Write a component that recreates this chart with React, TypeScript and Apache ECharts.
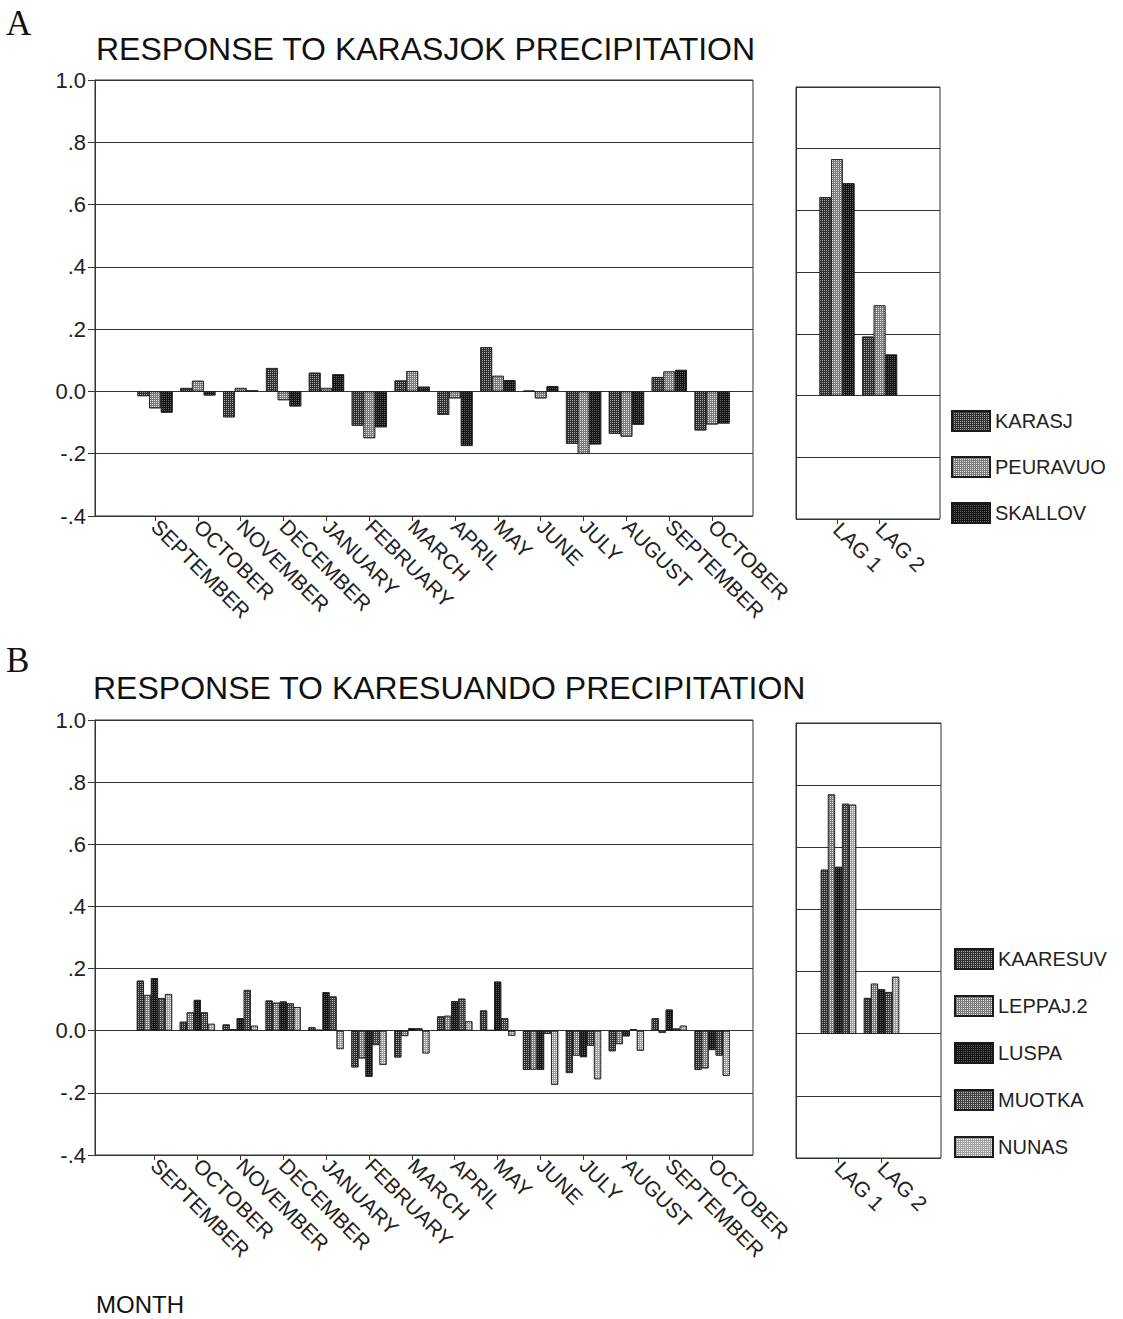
import React, { useEffect, useRef } from "react";
import * as echarts from "echarts";

// ---------- DATA ----------
const months = [
  "SEPTEMBER", "OCTOBER", "NOVEMBER", "DECEMBER", "JANUARY", "FEBRUARY", "MARCH",
  "APRIL", "MAY", "JUNE", "JULY", "AUGUST", "SEPTEMBER", "OCTOBER",
];
const lags = ["LAG 1", "LAG 2"];
const yTickLabels = ["-.4", "-.2", "0.0", ".2", ".4", ".6", ".8", "1.0"];

const titleA = "RESPONSE TO KARASJOK PRECIPITATION";
const titleB = "RESPONSE TO KARESUANDO PRECIPITATION";
const xTitle = "MONTH";

const seriesNamesA = ["KARASJ", "PEURAVUO", "SKALLOV"];
const karasjMonths = [-0.015, 0.011, -0.083, 0.075, 0.06, -0.11, 0.035, -0.075, 0.142, 0.002, -0.168, -0.136, 0.046, -0.125];
const peuravuoMonths = [-0.054, 0.034, 0.011, -0.028, 0.011, -0.15, 0.065, -0.022, 0.05, -0.022, -0.2, -0.145, 0.064, -0.106];
const skallovMonths = [-0.068, -0.013, 0.003, -0.048, 0.055, -0.115, 0.015, -0.175, 0.036, 0.017, -0.17, -0.107, 0.069, -0.103];
const karasjLags = [0.643, 0.191];
const peuravuoLags = [0.766, 0.292];
const skallovLags = [0.688, 0.133];

const seriesNamesB = ["KAARESUV", "LEPPAJ.2", "LUSPA", "MUOTKA", "NUNAS"];
const kaaresuvMonths = [0.161, 0.029, 0.02, 0.097, 0.011, -0.118, -0.086, 0.046, 0.065, -0.126, -0.136, -0.066, 0.04, -0.126];
const leppajMonths = [0.115, 0.059, 0.005, 0.09, 0.003, -0.089, -0.017, 0.048, 0.002, -0.125, -0.08, -0.043, -0.007, -0.121];
const luspaMonths = [0.169, 0.099, 0.04, 0.094, 0.124, -0.148, 0.008, 0.095, 0.158, -0.126, -0.085, -0.018, 0.068, -0.062];
const muotkaMonths = [0.105, 0.059, 0.131, 0.088, 0.11, -0.046, 0.008, 0.103, 0.04, -0.01, -0.048, 0.005, 0.007, -0.08];
const nunasMonths = [0.118, 0.022, 0.016, 0.076, -0.059, -0.11, -0.073, 0.03, -0.016, -0.174, -0.156, -0.064, 0.016, -0.145];
const kaaresuvLags = [0.528, 0.115];
const leppajLags = [0.77, 0.161];
const luspaLags = [0.537, 0.143];
const muotkaLags = [0.74, 0.134];
const nunasLags = [0.737, 0.183];

// ---------- STYLE ----------
const FONT = "'Liberation Sans', Arial, Helvetica, sans-serif";
const SERIF = "'Liberation Serif', 'Times New Roman', serif";
const INK = "#222";
const LINE = "#333";

const mkStyle = (base: string, dot: string) => ({
  color: base,
  borderColor: "#1a1a1a",
  borderWidth: 0.7,
  decal: {
    symbol: "rect",
    symbolSize: 1,
    dashArrayX: [1, 1],
    dashArrayY: [1, 1],
    color: dot,
    rotation: 0,
  },
});
const styleDark = mkStyle("#303030", "#a8a8a8");
const styleLight = mkStyle("#7a7a7a", "#e4e4e4");
const styleBlack = mkStyle("#141414", "#606060");
const styleMid = mkStyle("#404040", "#bcbcbc");
const stylePale = mkStyle("#a0a0a0", "#f2f2f2");

function yLabel(v: number) {
  const i = Math.round((v + 0.4) / 0.2);
  return yTickLabels[i] ?? "";
}

function frameGrid(left: number, top: number, width: number, height: number) {
  return { left, top, width, height, show: true, borderColor: LINE, borderWidth: 1, backgroundColor: "transparent" };
}
function plainGrid(left: number, top: number, width: number, height: number) {
  return { left, top, width, height, show: false };
}

function frameY(gridIndex: number, labels: boolean) {
  return {
    gridIndex,
    type: "value",
    min: -0.4,
    max: 1.0,
    interval: 0.2,
    axisLine: { show: true, lineStyle: { color: LINE, width: 1 } },
    axisTick: { show: labels, length: 7, inside: false, lineStyle: { color: LINE } },
    axisLabel: { show: labels, formatter: yLabel, fontSize: 22, margin: 9, color: INK, fontFamily: FONT },
    splitLine: { show: true, lineStyle: { color: LINE, width: 1 } },
  };
}
function hiddenY(gridIndex: number) {
  return { gridIndex, type: "value", min: -0.4, max: 1.0, show: false, splitLine: { show: false } };
}
function hiddenX(gridIndex: number) {
  return { gridIndex, type: "value", show: false, splitLine: { show: false } };
}
function catX(gridIndex: number, data: string[]) {
  return {
    gridIndex,
    type: "category",
    data,
    axisLine: { show: false, onZero: false },
    axisTick: { show: true, alignWithLabel: true, length: 5, lineStyle: { color: LINE } },
    axisLabel: { interval: 0, rotate: -45, fontSize: 21, margin: 7, color: INK, fontFamily: FONT },
    splitLine: { show: false },
  };
}

function bar(name: string, data: number[], axisIndex: number, itemStyle: any) {
  return {
    type: "bar",
    name,
    data,
    xAxisIndex: axisIndex,
    yAxisIndex: axisIndex,
    barGap: "0%",
    barCategoryGap: "18%",
    itemStyle,
    emphasis: { disabled: true },
  };
}

export default function App() {
  const ref = useRef<HTMLDivElement>(null);

  useEffect(() => {
    document.body.style.margin = "0";
    if (!ref.current) return;
    const chart = echarts.init(ref.current, null, { renderer: "svg" });

    const option: any = {
      animation: false,
      backgroundColor: "#ffffff",
      grid: [
        frameGrid(95, 80, 658, 436),   // 0 A main frame
        plainGrid(133.6, 80, 600, 436), // 1 A main bars
        frameGrid(796, 87, 144, 432),  // 2 A lag frame
        plainGrid(815.7, 87, 85.2, 432), // 3 A lag bars
        frameGrid(95, 720, 658, 435),  // 4 B main frame
        plainGrid(133, 720, 600.6, 435), // 5 B main bars
        frameGrid(796, 723, 145, 435), // 6 B lag frame
        plainGrid(817, 723, 86, 435),  // 7 B lag bars
      ],
      xAxis: [
        hiddenX(0), catX(1, months), hiddenX(2), catX(3, lags),
        hiddenX(4), catX(5, months), hiddenX(6), catX(7, lags),
      ],
      yAxis: [
        frameY(0, true), hiddenY(1), frameY(2, false), hiddenY(3),
        frameY(4, true), hiddenY(5), frameY(6, false), hiddenY(7),
      ],
      legend: [
        {
          orient: "vertical",
          left: 951,
          top: 410,
          padding: 0,
          itemWidth: 38,
          itemHeight: 20,
          itemGap: 24,
          icon: "rect",
          selectedMode: false,
          data: seriesNamesA,
          textStyle: { fontSize: 20, fontFamily: FONT, color: INK },
        },
        {
          orient: "vertical",
          left: 954,
          top: 948,
          padding: 0,
          itemWidth: 38,
          itemHeight: 20,
          itemGap: 25,
          icon: "rect",
          selectedMode: false,
          data: seriesNamesB,
          textStyle: { fontSize: 20, fontFamily: FONT, color: INK },
        },
      ],
      series: [
        bar(seriesNamesA[0], karasjMonths, 1, styleDark),
        bar(seriesNamesA[1], peuravuoMonths, 1, styleLight),
        bar(seriesNamesA[2], skallovMonths, 1, styleBlack),
        bar(seriesNamesA[0], karasjLags, 3, styleDark),
        bar(seriesNamesA[1], peuravuoLags, 3, styleLight),
        bar(seriesNamesA[2], skallovLags, 3, styleBlack),
        bar(seriesNamesB[0], kaaresuvMonths, 5, styleDark),
        bar(seriesNamesB[1], leppajMonths, 5, styleLight),
        bar(seriesNamesB[2], luspaMonths, 5, styleBlack),
        bar(seriesNamesB[3], muotkaMonths, 5, styleMid),
        bar(seriesNamesB[4], nunasMonths, 5, stylePale),
        bar(seriesNamesB[0], kaaresuvLags, 7, styleDark),
        bar(seriesNamesB[1], leppajLags, 7, styleLight),
        bar(seriesNamesB[2], luspaLags, 7, styleBlack),
        bar(seriesNamesB[3], muotkaLags, 7, styleMid),
        bar(seriesNamesB[4], nunasLags, 7, stylePale),
      ],
      graphic: [
        { type: "text", left: 6, top: 6, style: { text: "A", font: `35px ${SERIF}`, fill: "#111" } },
        { type: "text", left: 96, top: 33, style: { text: titleA, font: `32px ${FONT}`, fill: "#111" } },
        { type: "text", left: 6, top: 643, style: { text: "B", font: `35px ${SERIF}`, fill: "#111" } },
        { type: "text", left: 93, top: 672, style: { text: titleB, font: `32px ${FONT}`, fill: "#111" } },
        { type: "text", left: 96, top: 1292, style: { text: xTitle, font: `24px ${FONT}`, fill: "#111" } },
      ],
    };

    chart.setOption(option);
    return () => chart.dispose();
  }, []);

  return <div ref={ref} style={{ width: 1123, height: 1319, overflow: "hidden" }} />;
}
